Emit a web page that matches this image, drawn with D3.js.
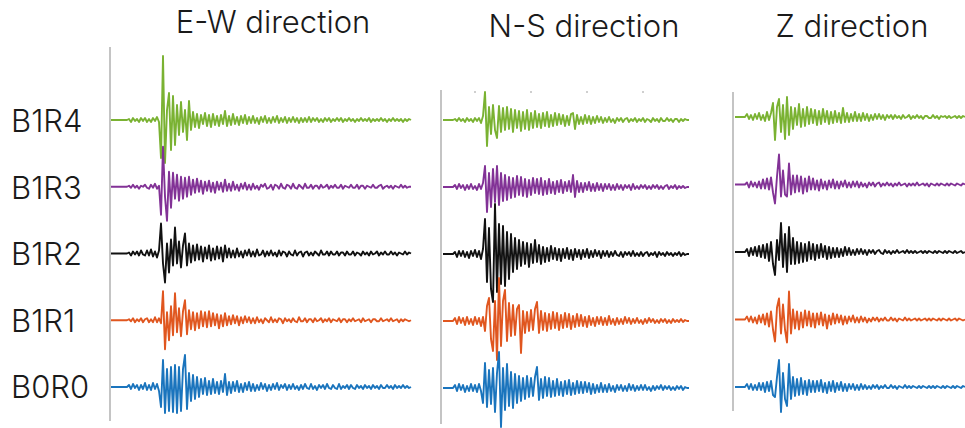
<!DOCTYPE html>
<html><head><meta charset="utf-8">
<script src="https://cdn.jsdelivr.net/npm/d3@7"></script>
<style>html,body{margin:0;padding:0;background:#fff;}svg{display:block;}</style>
</head><body><svg id="chart" width="965" height="428"></svg>
<script>
// ---- data ----
const directions = ["E-W direction", "N-S direction", "Z direction"];
const stations = ["B1R4", "B1R3", "B1R2", "B1R1", "B0R0"];
const stationColors = ["#7ab232", "#823296", "#111111", "#e0561f", "#1a74bd"];

// E-W component: 151 uniform samples per trace (amplitude, arbitrary counts)
const ewB1R4 = [
  0,0,0,0,0,0,0,0,0,1,  -2,2,-1,1,-2,2,-1,2,-2,1,  -2,2,-1,3,-2,-38,64,-43,10,27,
  -30,24,-25,15,-15,18,-12,10,-20,19,  -10,8,-7,6,-8,5,-4,7,-6,5,  -7,6,-5,4,-6,5,-4,9,-6,4,
  -5,6,-4,3,-5,4,-3,5,-4,3,  -3,4,-3,2,-4,3,-2,4,-3,2,  -3,3,-2,4,-3,2,-2,3,-3,2,
  -2,3,-2,2,-3,2,-2,2,-2,3,  -2,2,-1,2,-2,1,-2,2,-1,2,  -2,1,-1,2,-1,2,-2,1,-1,2,
  -1,1,-2,1,-1,2,-1,1,-1,2,  -2,1,-1,1,-1,2,-1,1,-2,1,  -1,2,-1,1,-1,1,-2,1,-1,1,  0];
const ewB1R3 = [
  0,0,0,0,0,0,0,0,0,1,  -1,2,-1,1,-2,1,0,2,-1,-2,  2,-1,3,-2,1,-28,40,-10,-34,15,
  -21,14,-12,12,-14,10,-12,9,-10,10,  -8,7,-6,8,-5,6,-7,5,-4,6,  -5,4,-6,5,-3,4,-5,7,-4,3,
  -4,5,-3,2,-4,3,-2,4,-3,2,  -3,3,-2,1,-3,2,0,3,-2,-1,  2,-3,2,1,-2,3,-1,-2,2,1,
  -2,3,-1,-2,2,0,-2,3,-1,-1,  2,-2,1,1,-2,2,-1,0,2,-2,  1,-1,2,-1,-1,2,-2,1,0,-1,
  2,-1,-1,2,-2,1,1,-2,1,0,  -1,2,-1,-1,1,2,-2,0,1,-1,  1,-2,1,0,-1,2,-1,1,-1,0,  0];
const ewB1R2 = [
  0,0,0,0,0,0,0,0,0,1,  -2,2,-1,2,-2,3,-1,-2,3,-2,  4,-3,2,-4,3,30,-10,-29,10,-19,
  14,-12,26,-10,12,-14,8,20,-12,10,  -9,8,-7,9,-6,7,-8,6,-5,8,  -7,5,-6,7,-5,6,-8,8,-4,5,
  -4,3,-4,5,-3,2,-4,3,-2,4,  -3,2,-3,4,-2,-1,3,-3,2,-2,  3,-2,1,-3,3,-2,2,1,-3,2,
  -1,-2,3,-2,1,2,-3,1,2,-2,  1,-2,2,0,-2,3,-1,-1,2,-2,  2,-1,-1,2,-2,1,1,-2,2,-1,
  -1,2,-2,1,0,-2,2,-1,1,-2,  2,-1,0,2,-2,1,-1,2,-1,-1,  2,-1,1,-2,1,0,-1,2,-1,1,  0];
const ewB1R1 = [
  0,0,0,0,0,0,0,0,0,1,  -1,2,-2,1,-1,2,-2,1,2,-2,  1,-2,3,-2,2,-3,29,-29,8,-20,
  14,-15,27,-12,12,-16,9,20,-14,10,  -9,8,-10,7,-8,9,-6,8,-7,9,  -6,7,-5,6,-8,5,-6,7,-5,4,
  -4,5,-3,4,-5,3,-3,4,-2,3,  -3,2,-3,3,-2,1,-3,2,0,-2,  3,-2,1,-2,2,1,-3,2,-1,1,
  -2,2,-1,-2,3,-1,-1,2,-2,1,  1,-2,2,-1,0,2,-2,1,-1,2,  -2,1,0,-1,2,-2,1,1,-2,1,
  -1,2,-1,0,1,-2,2,-1,0,1,  -2,1,1,-1,-1,2,-1,0,1,-1,  2,-1,0,1,-2,1,-1,1,0,-1,  0];
const ewB0R0 = [
  0,0,0,0,0,0,0,0,0,2,  -2,3,-1,2,-3,2,-2,4,-3,2,  -3,4,-2,3,-4,-20,27,-26,18,-24,
  20,-25,22,-26,20,-24,18,32,-22,14,  -14,12,-12,10,-10,8,-7,9,-8,6,  -7,8,-6,5,-7,6,-5,13,-8,5,
  -6,5,-4,6,-5,3,-5,4,-3,5,  -4,3,-4,2,-3,4,-2,3,-4,2,  -3,3,-2,4,-3,2,-1,3,-3,2,
  -2,3,-2,1,-3,2,-2,3,-1,-2,  3,-2,1,-3,2,-1,2,-2,3,-1,  -2,2,-1,-2,3,-2,1,-1,2,-2,
  2,-1,-2,2,-1,1,-2,2,-1,1,  -2,2,-1,1,-2,2,-1,-1,2,-1,  1,-2,2,-1,1,-1,2,-1,1,-1,  0];

// N-S component: 124 samples per trace
const nsB1R4 = [
  0,0,0,0,0,0,1,-1,2,-1,  1,-2,2,-1,1,-2,2,-1,2,-3,  4,28,-26,13,-14,15,-10,-18,14,-12,
  12,-10,13,-9,11,-12,10,-8,9,-11,  8,-9,10,-10,7,-8,9,-7,6,-8,  7,-6,8,-7,5,-6,7,-5,6,-4,
  5,-6,4,-5,6,7,-9,5,-4,3,  -4,5,-3,4,-4,3,-3,4,-2,3,  -3,2,-2,3,-2,1,-3,2,-1,2,
  -2,1,2,-2,1,-1,2,-2,1,-1,  2,-2,1,0,-2,2,-1,1,-2,2,  -1,-1,2,-1,1,-2,1,1,-2,1,  -1,1,0,0];
const nsB1R3 = [
  0,0,0,0,0,0,2,-2,3,-1,  2,-3,2,-2,3,-2,1,-3,3,-2,  4,21,-25,14,-20,18,-15,21,-18,14,
  -14,12,-13,10,-11,9,-10,11,-8,10,  -9,8,-10,7,-8,9,-6,8,-7,9,  -8,6,-7,8,-6,5,-7,6,-5,7,
  -6,5,-4,6,-5,12,-10,6,-5,4,  -5,4,-3,5,-4,3,-4,4,-3,3,  -4,3,-2,3,-3,2,-3,3,-2,2,
  -3,2,-1,2,-3,3,-2,1,-2,2,  -1,2,-2,1,-2,2,-1,2,-2,1,  -2,1,2,-2,1,-1,2,-2,1,-1,  1,-1,0,0];
const nsB1R2 = [
  0,0,0,0,0,0,2,-3,3,-2,  3,-3,2,-4,3,-2,4,-3,3,-5,  5,35,-28,26,-35,-48,50,-38,30,-30,
  28,-32,22,-25,20,-18,16,-15,14,-12,  12,-10,11,-13,10,-9,14,-8,9,-10,  7,-8,6,-7,8,-5,6,-6,5,-7,
  5,-4,6,-5,4,-6,5,-3,4,-5,  4,-3,5,-4,3,-3,4,-2,3,-4,  3,-2,3,-3,2,-2,3,-1,-2,2,
  -3,2,-1,2,-2,3,-2,1,-2,2,  -2,1,2,-2,1,-1,2,-3,2,-1,  1,-2,2,-1,1,-2,1,-1,2,-2,  1,-1,0,0];
const nsB1R1 = [
  0,0,0,0,0,0,3,-3,4,-2,  3,-4,4,-3,2,-4,4,-3,3,-5,  4,-10,15,23,-18,-30,20,-39,43,-25,
  20,31,-20,18,-15,16,-14,12,16,-32,  10,-12,9,-10,11,-9,12,19,-12,10,  -9,8,-10,7,-8,9,-7,8,-9,6,
  -7,8,-6,7,-8,5,-6,7,-5,6,  -5,4,-6,5,-4,3,-5,4,-3,4,  -4,3,-4,5,-3,2,-4,3,-3,2,
  -3,4,-2,3,-3,2,-2,3,-2,1,  -3,2,-2,3,-1,2,-2,1,-2,2,  -1,2,-2,1,-2,2,-1,1,-1,2,  -1,1,0,0];
const nsB0R0 = [
  0,0,0,0,0,0,3,-3,4,-2,  3,-4,2,-3,4,-3,3,-4,4,-3,  -15,25,-19,18,-16,20,-24,15,36,-39,
  20,-22,24,-18,16,-20,14,-15,12,-13,  10,-11,12,-9,10,-8,11,21,-12,9,  -10,11,-8,10,-9,7,-8,9,-7,6,
  -8,7,-6,8,-7,5,-6,7,-5,6,  -5,6,-4,5,-6,4,-5,3,-4,5,  -4,3,-4,4,-3,2,-4,3,-2,3,
  -3,2,-3,4,-2,3,-3,2,-2,3,  -2,3,-2,1,-3,2,-2,2,-1,3,  -2,2,-1,2,-2,1,-2,2,-1,2,  -2,1,0,0];

// Z component: 116 samples per trace
const zB1R4 = [
  0,0,0,0,0,0,3,-2,2,-3,  3,-2,4,-3,2,-4,5,-3,4,14,  -23,10,18,-15,12,-22,20,-18,10,-12,
  9,-8,13,-10,8,-9,10,-7,8,-6,  7,-8,6,-7,8,-5,6,-7,5,-6,  6,-5,4,-6,9,-5,4,-5,3,-4,
  5,-4,3,-4,4,-3,3,-4,2,-3,  3,-2,3,-2,2,-3,2,-1,2,-2,  2,-1,1,-2,2,-1,0,2,-2,1,
  -1,2,-1,1,-2,1,1,-1,-1,2,  -1,1,-2,1,0,1,-1,1,-1,0,  1,-1,1,-1,1,0];
const zB1R3 = [
  0,0,0,0,0,0,2,-3,3,-2,  2,-3,3,-4,5,-4,6,-5,7,-8,  -19,8,30,-12,14,-10,-12,21,-10,9,
  -8,9,-7,8,-9,6,-7,8,-5,6,  -5,4,-6,5,-4,3,-5,4,-3,5,  -4,3,-4,3,-2,4,-3,2,-3,3,
  -2,3,-3,2,-2,1,-3,2,-1,2,  -2,1,2,-2,1,-1,2,-1,1,-2,  1,-1,2,-1,0,1,-2,1,-1,1,
  -1,2,-1,0,1,-1,1,-2,1,0,  -1,1,-1,1,0,-1,1,-1,1,0,  -1,1,0,-1,1,0];
const zB1R2 = [
  0,0,0,0,0,0,3,-4,4,-3,  5,-4,6,-5,7,-6,8,-9,10,-12,  -23,12,-8,29,-15,18,-20,25,-12,14,
  -12,10,-11,9,-10,8,-9,10,-7,8,  -8,7,-6,8,-5,6,-7,5,-6,4,  -5,4,-5,3,-4,5,-3,4,-3,2,
  -3,3,-2,3,-2,2,-3,2,-1,2,  -2,1,2,-1,-2,2,-1,1,-2,1,  -1,2,-1,0,1,-1,2,-1,1,-1,
  1,-1,0,1,-1,1,-1,1,0,-1,  1,-1,1,0,-1,1,-1,1,0,-1,  1,-1,0,1,-1,0];
const zB1R1 = [
  0,0,0,0,0,0,3,-2,3,-3,  2,-4,4,-3,5,-5,6,-7,8,-10,  -22,12,21,-14,15,-10,-23,28,-14,10,
  -9,8,-10,7,-8,9,-6,8,-7,6,  -8,6,-5,7,-6,5,-9,4,-5,6,  -4,5,-3,4,-5,3,-4,3,-2,4,
  -3,2,-3,3,-2,2,-3,1,-2,2,  -1,2,-2,1,-1,2,-1,-1,2,-1,  1,-2,1,0,-1,2,-1,1,-1,0,
  1,-1,1,-1,0,1,-1,1,-1,1,  0,-1,1,-1,1,0,-1,1,-1,0,  1,-1,1,0,-1,0];
const zB0R0 = [
  0,0,0,0,0,0,3,-2,3,-3,  2,-3,4,-3,4,-5,5,-4,6,-8,  -10,10,27,-25,14,-12,-19,23,-12,10,
  -9,8,-8,9,-7,6,-8,7,-5,6,  -5,6,-4,7,-5,4,-6,5,-4,6,  -5,4,-3,5,-4,3,-4,3,-2,3,
  -3,2,-3,3,-2,2,-2,1,-2,2,  -1,2,-2,1,-1,2,-1,-1,2,-1,  1,-2,1,0,-1,2,-1,1,-1,1,
  0,-1,1,-1,1,0,-1,1,-1,1,  -1,1,0,-1,1,-1,1,0,-1,1,  -1,1,0,-1,1,0];

const ewSeries = [ewB1R4, ewB1R3, ewB1R2, ewB1R1, ewB0R0];
const nsSeries = [nsB1R4, nsB1R3, nsB1R2, nsB1R1, nsB0R0];
const zSeries  = [zB1R4, zB1R3, zB1R2, zB1R1, zB0R0];
const nsTopTicks = [0, 1, 2, 3];

// ---- layout ----
const svg = d3.select("#chart");
const font = "Inter, 'Liberation Sans', Arial, sans-serif";

const panels = [
  {title: directions[0], series: ewSeries, x0: 111, x1: 411, axisX: 110, axisY: [47, 421], rowRange: [120, 387], titleX: 273, titleY: 33},
  {title: directions[1], series: nsSeries, x0: 443, x1: 689, axisX: 441, axisY: [90, 424], rowRange: [120, 388], titleX: 584, titleY: 37},
  {title: directions[2], series: zSeries,  x0: 735, x1: 965, axisX: 733, axisY: [92, 411], rowRange: [117, 387], titleX: 852, titleY: 37}
];

// station labels
const labelY = d3.scalePoint().domain(stations).range([132, 398]);
svg.append("g").selectAll("text").data(stations).join("text")
  .attr("x", 11).attr("y", d => labelY(d))
  .attr("font-family", font).attr("font-size", 31).attr("font-weight", 300)
  .attr("fill", "#1a1a1a").text(d => d);

panels.forEach((p, pi) => {
  const g = svg.append("g");
  const n = d3.max(p.series, s => s.length) - 1;
  const x = d3.scaleLinear().domain([0, n]).range([p.x0, p.x1]);
  const row = d3.scalePoint().domain(stations).range(p.rowRange);
  const amp = d3.scaleLinear().domain([-1, 1]).range([1, -1]);

  // title
  g.append("text").attr("x", p.titleX).attr("y", p.titleY).attr("text-anchor", "middle")
    .attr("font-family", font).attr("font-size", 31).attr("font-weight", 300)
    .attr("fill", "#1a1a1a").text(p.title);

  // vertical axis line
  g.append("line").attr("x1", p.axisX).attr("x2", p.axisX)
    .attr("y1", p.axisY[0]).attr("y2", p.axisY[1])
    .attr("stroke", "#c4c4c4").attr("stroke-width", 2);

  if (pi === 1) {
    const tx = d3.scaleLinear().domain([0, 3]).range([475, 643]);
    g.selectAll("rect.tk").data(nsTopTicks).join("rect").attr("class", "tk")
      .attr("x", d => tx(d) - 1).attr("y", 91).attr("width", 2).attr("height", 2)
      .attr("fill", "#cfcfcf");
  }

  stations.forEach((s, si) => {
    const vals = p.series[si];
    const base = row(s);
    const line = d3.line()
      .x((d, i) => x(i))
      .y(d => base + amp(d) - amp(0));
    g.append("path").datum(vals)
      .attr("d", line)
      .attr("fill", "none")
      .attr("stroke", stationColors[si])
      .attr("stroke-width", 1.9)
      .attr("stroke-linejoin", "round");
  });
});
</script></body></html>
